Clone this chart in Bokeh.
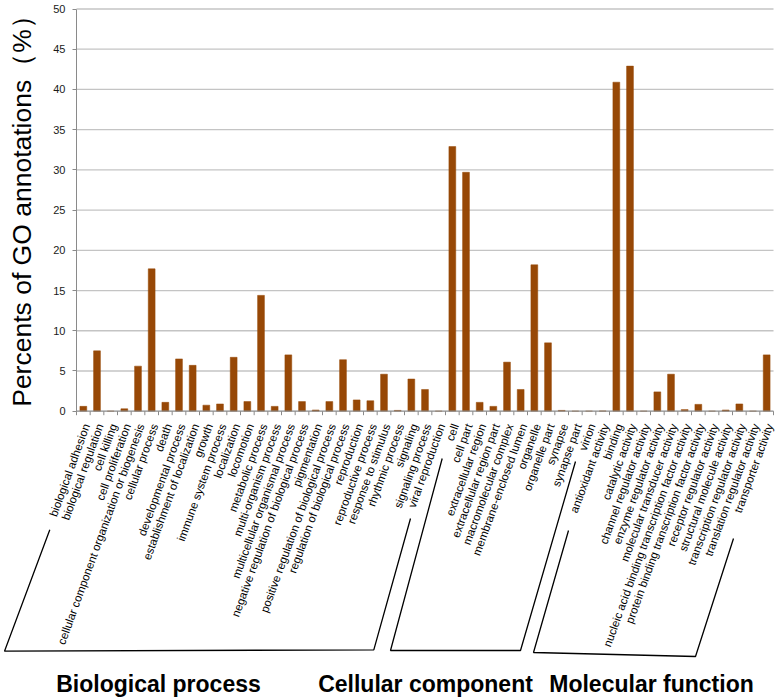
import math
from bokeh.plotting import figure
from bokeh.models import Range1d, FixedTicker, ColumnDataSource
from bokeh.core.properties import value
from bokeh.embed import file_html
from bokeh.resources import INLINE

# ---------------- data ----------------
BP_TERMS = [
    "biological adhesion", "biological regulation", "cell killing", "cell proliferation",
    "cellular component organization or biogenesis", "cellular process", "death",
    "developmental process", "establishment of localization", "growth",
    "immune system process", "localization", "locomotion", "metabolic process",
    "multi-organism process", "multicellular organismal process",
    "negative regulation of biological process", "pigmentation",
    "positive regulation of biological process", "regulation of biological process",
    "reproduction", "reproductive process", "response to stimulus", "rhythmic process",
    "signaling", "signaling process", "viral reproduction",
]
BP_VALUES = [0.6, 7.5, 0.0, 0.3, 5.6, 17.7, 1.1, 6.5, 5.7, 0.75,
             0.9, 6.7, 1.2, 14.4, 0.6, 7.0, 1.2, 0.15, 1.2, 6.4,
             1.4, 1.3, 4.6, 0.1, 4.0, 2.7, 0.0]

CC_TERMS = [
    "cell", "cell part", "extracellular region", "extracellular region part",
    "macromolecular complex", "membrane-enclosed lumen", "organelle", "organelle part",
    "synapse", "synapse part", "virion",
]
CC_VALUES = [32.9, 29.7, 1.1, 0.6, 6.1, 2.7, 18.2, 8.5, 0.1, 0.0, 0.0]

MF_TERMS = [
    "antioxidant activity", "binding", "catalytic activity", "channel regulator activity",
    "enzyme regulator activity", "molecular transducer activity",
    "nucleic acid binding transcription factor activity",
    "protein binding transcription factor activity", "receptor regulator activity",
    "structural molecule activity", "transcription regulator activity",
    "translation regulator activity", "transporter activity",
]
MF_VALUES = [0.03, 40.9, 42.9, 0.0, 2.4, 4.6, 0.2, 0.85, 0.0, 0.15, 0.9, 0.0, 7.0]

GROUP_NAMES = ["Biological process", "Cellular component", "Molecular function"]
Y_TICKS = [0, 5, 10, 15, 20, 25, 30, 35, 40, 45, 50]
Y_TITLE = "Percents of GO annotations\uff08%\uff09"

# ---------------- layout ----------------
W, H = 777, 700
AXIS_PX = 76.0          # y axis position inside the figure
RIGHT_PX = 773.0        # right end of the category area
ZERO_PX = 410.7         # y=0 position from the top
TOP_PX = 8.5            # y=50 position from the top

terms = BP_TERMS + CC_TERMS + MF_TERMS
values = BP_VALUES + CC_VALUES + MF_VALUES
n = len(terms)
ymax = Y_TICKS[-1]

pxu_x = (RIGHT_PX - AXIS_PX) / n
pxu_y = (ZERO_PX - TOP_PX) / ymax

x_range = Range1d(-AXIS_PX / pxu_x, (W - AXIS_PX) / pxu_x)
y_range = Range1d(-(H - ZERO_PX) / pxu_y, ymax + TOP_PX / pxu_y)

# pixel -> data helpers for decorations
def rx(X):
    return (X - AXIS_PX) / pxu_x
def ry(Y):
    return (ZERO_PX - Y) / pxu_y

p = figure(width=W, height=H, x_range=x_range, y_range=y_range,
           output_backend="svg", toolbar_location=None, x_axis_type=None,
           min_border=0, min_border_left=0, min_border_right=0,
           min_border_top=0, min_border_bottom=0)
p.outline_line_color = None
p.background_fill_color = "white"
p.border_fill_color = "white"
p.ygrid.visible = False

# y axis placed at x=0
yax = p.yaxis[0]
yax.fixed_location = 0
yax.ticker = FixedTicker(ticks=Y_TICKS)
yax.bounds = (0, ymax)
yax.axis_line_color = "#8a8a8a"
yax.major_tick_line_color = "#8a8a8a"
yax.major_tick_out = 4
yax.major_tick_in = 0
yax.minor_tick_line_color = None
yax.major_label_standoff = 7
yax.major_label_text_font = "Liberation Sans"
yax.major_label_text_font_size = "11px"
yax.major_label_text_color = "#1a1a1a"

# grid lines
grid_ticks = [t for t in Y_TICKS if t > 0]
p.segment(x0=[0] * len(grid_ticks), x1=[n] * len(grid_ticks), y0=grid_ticks, y1=grid_ticks,
          line_color="#c4c4c4", line_width=1.3)

# bars
src = ColumnDataSource(dict(x=[i + 0.5 for i in range(n)], top=values, term=terms,
                            y0=[0] * n))
p.vbar(x="x", top="top", width=0.5, source=src, fill_color="#974806",
       line_color="#974806", line_width=0.5)

# x axis line and ticks
p.segment(x0=[0], x1=[n], y0=[0], y1=[0], line_color="#8a8a8a", line_width=1.2)
tick_len = 4 / pxu_y
p.segment(x0=list(range(n + 1)), x1=list(range(n + 1)), y0=[0] * (n + 1),
          y1=[-tick_len] * (n + 1), line_color="#8a8a8a", line_width=1)

# category labels
p.text(x="x", y="y0", text="term", source=src, angle=math.radians(70),
       text_align="right", text_baseline="middle", x_offset=3, y_offset=13,
       text_font=value("Liberation Sans"), text_font_size=value("11.5px"),
       text_color="black")

# y axis title
p.text(x=[rx(21)], y=[ry(204)], text=[Y_TITLE], angle=math.pi / 2,
       text_align="center", text_baseline="middle",
       text_font=value("Liberation Sans"), text_font_size=value("26.5px"),
       text_color="black")

# group brackets
BRACKETS_PX = [
    [(49.3, 529.3), (4.0, 650.7), (373.3, 649.3), (410.0, 518.0)],
    [(441.7, 458.0), (390.0, 650.0), (520.0, 650.0), (575.0, 461.0)],
    [(568.0, 530.0), (533.0, 652.0), (695.0, 656.0), (733.0, 538.0)],
]
p.multi_line(xs=[[rx(a) for a, b in br] for br in BRACKETS_PX],
             ys=[[ry(b) for a, b in br] for br in BRACKETS_PX],
             line_color="black", line_width=1.3)

# group names
GROUP_CENTERS_PX = [158, 425, 651]
p.text(x=[rx(c) for c in GROUP_CENTERS_PX], y=[ry(683)] * 3, text=GROUP_NAMES,
       text_align="center", text_baseline="middle",
       text_font=value("Liberation Sans"),
       text_font_size=value("23px"), text_font_style="bold", text_color="black")

open("out.html", "w").write(file_html(p, INLINE))
